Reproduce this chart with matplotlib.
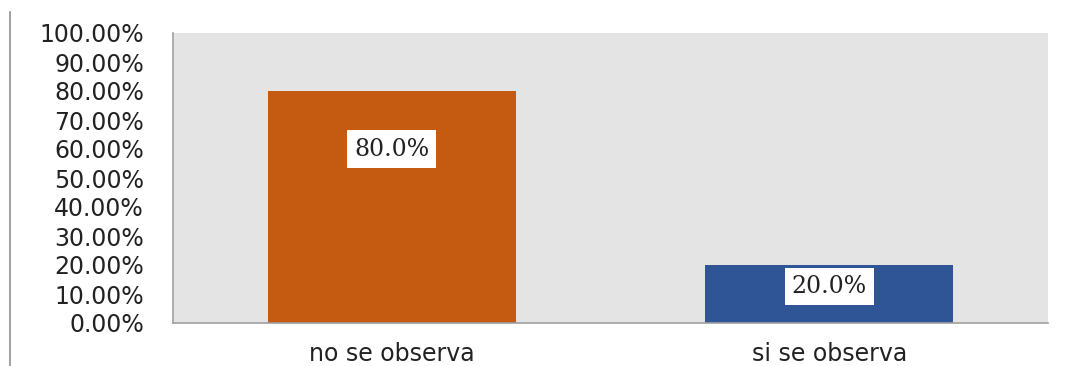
import matplotlib.pyplot as plt
from matplotlib.lines import Line2D
from matplotlib.ticker import FuncFormatter

categories = ['no se observa', 'si se observa']
values = [0.80, 0.20]
bar_labels = ['80.0%', '20.0%']
label_pos = [0.60, 0.125]
colors = ['#c55a11', '#2f5597']

fig = plt.figure(figsize=(10.71, 3.66), dpi=100)
ax = fig.add_axes([173/1071, 43/366, 875/1071, 290/366])
ax.set_facecolor('#e4e4e4')

x = range(len(categories))
ax.bar(x, values, width=0.567, color=colors, zorder=2)

for i, (lab, yp) in enumerate(zip(bar_labels, label_pos)):
	ax.text(i, yp, lab, ha='center', va='center', fontsize=17, color='#222222',
		family='DejaVu Serif',
		bbox=dict(boxstyle='square,pad=0.3', fc='white', ec='none'), zorder=3)

ax.set_xlim(-0.5, 1.5)
ax.set_ylim(0, 1.0)
ax.set_yticks([i/10 for i in range(11)])
ax.yaxis.set_major_formatter(FuncFormatter(lambda v, p: '%.2f%%' % (v*100)))
ax.set_xticks(list(x))
ax.set_xticklabels(categories)
ax.tick_params(axis='y', length=0, pad=21, labelsize=17, labelcolor='#222222')
ax.tick_params(axis='x', length=0, pad=14, labelsize=17, labelcolor='#222222')

for s in ['top', 'right']:
	ax.spines[s].set_visible(False)
for s in ['left', 'bottom']:
	ax.spines[s].set_color('#a0a0a0')
	ax.spines[s].set_linewidth(1.2)

# thin line at the far left of the figure
fig.add_artist(Line2D([10/1071, 10/1071], [0, 1 - 12/366], color='#909090', linewidth=1.2))

plt.savefig('out.png')
